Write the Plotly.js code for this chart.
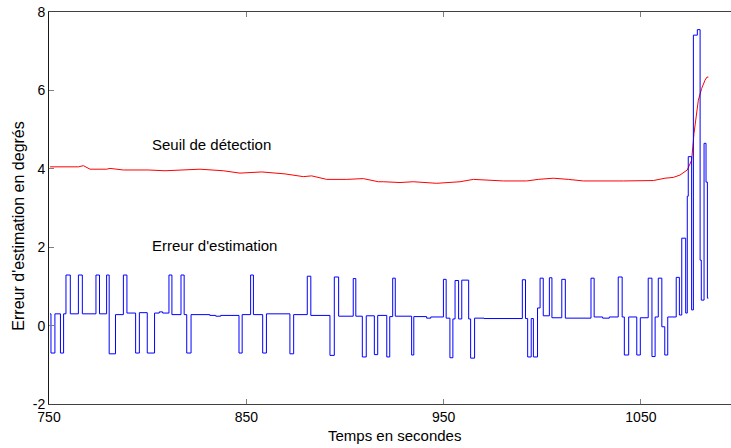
<!DOCTYPE html>
<html>
<head>
<meta charset="utf-8">
<script src="https://cdn.plot.ly/plotly-3.0.1.min.js"></script>
<style>html,body{margin:0;padding:0;background:#fff;}#chart{width:731px;height:448px;}</style>
</head>
<body>
<div id="chart"></div>
<script>
// Erreur d'estimation (step signal, breakpoints)
const errTime = [750.5,751.0,753.0,755.8,757.4,758.6,760.8,764.9,766.9,773.8,775.6,779.2,780.5,783.7,787.7,789.5,793.9,795.8,799.8,803.5,805.9,807.6,810.8,812.3,816.9,818.5,819.8,822.0,831.5,834.5,837.0,846.3,847.9,852.2,853.6,858.3,860.2,
872.1,874.0,880.9,882.7,892.4,894.6,896.8,904.2,905.5,908.8,910.8,914.9,916.6,921.2,922.7,924.2,925.5,933.8,934.9,941.4,943.5,949.9,951.3,953.2,954.7,955.8,957.6,959.2,962.7,963.7,965.7,
970.5,989.9,991.5,992.6,994.4,995.5,997.6,998.9,1000.5,1003.6,1004.9,1009.9,1011.7,1024.7,1026.3,1030.6,1034.0,1038.5,1040.5,1041.6,1043.8,1047.9,1049.7,1053.7,1055.6,1057.2,1058.8,1060.6,1062.1,1063.6,
1067.9,1069.5,1070.7,1072.7,1073.5,1074.0,1075.7,1076.6,1078.6,1080.0,1080.6,1082.0,1083.0,1083.7,1084.2];
const errValue = [0.30,-0.70,0.30,-0.70,0.30,1.29,0.30,1.29,0.30,1.29,0.30,1.29,-0.72,0.28,1.29,0.32,-0.70,0.33,-0.70,0.32,0.35,0.32,1.29,0.28,1.29,0.28,-0.70,0.28,0.26,0.24,0.26,-0.70,0.28,1.29,0.28,-0.70,0.30,
-0.72,0.28,1.26,0.26,-0.76,1.24,0.24,1.20,0.24,-0.80,0.25,-0.74,0.26,-0.80,0.23,1.21,0.24,-0.75,0.23,0.19,0.22,1.18,0.19,-0.82,0.17,1.15,0.17,1.16,0.17,-0.83,0.19,
0.18,1.17,0.18,-0.80,0.18,-0.80,0.45,1.21,0.25,1.22,0.20,1.18,0.19,1.21,0.22,0.19,0.22,1.24,0.22,-0.75,0.22,-0.75,0.20,1.21,-0.79,0.22,1.21,-0.03,-0.75,0.22,
1.23,0.27,2.23,0.32,3.30,4.31,0.40,7.41,7.55,1.67,0.65,4.65,3.66,0.70,0.70];

// Seuil de détection
const seuilTime = [750.5,764.9,767.4,770.8,779.2,780.9,787.7,800.3,808.8,816.4,826.5,838.3,846.8,857.8,869.6,878.9,883.1,890.7,900.9,909.3,912.7,916.9,919.4,927.9,934.6,946.5,958.3,965.1,980.3,992.1,998.0,1005.6,1013.2,1020.8,1041.1,1056.3,1062.2,1066.4,1069.8,1071.5,1073.5,1075.7,1076.9,1079.1,1080.8,1082.5,1083.5,1084.2];
const seuilValue = [4.05,4.05,4.08,3.99,3.99,4.01,3.97,3.97,3.95,3.97,3.99,3.95,3.89,3.92,3.87,3.80,3.82,3.73,3.73,3.75,3.71,3.67,3.67,3.65,3.67,3.63,3.67,3.73,3.69,3.69,3.73,3.76,3.73,3.69,3.69,3.70,3.76,3.78,3.84,3.89,3.97,4.22,4.90,5.75,6.05,6.26,6.34,6.34];

const xTicks = [750, 850, 950, 1050];
const yTicks = [-2, 0, 2, 4, 6, 8];
const labels = {seuil: 'Seuil de détection', erreur: "Erreur d'estimation", xTitle: 'Temps en secondes', yTitle: "Erreur d'estimation en degrés"};

const FONT = '"Liberation Sans", Arial, Helvetica, sans-serif';

const traces = [
  {x: seuilTime, y: seuilValue, type: 'scatter', mode: 'lines', line: {color: '#ff0000', width: 1}, hoverinfo: 'skip'},
  {x: errTime, y: errValue, type: 'scatter', mode: 'lines', line: {color: '#0000ff', width: 1, shape: 'hv'}, hoverinfo: 'skip'}
];

const layout = {
  width: 731, height: 448,
  margin: {l: 49, r: 0, t: 12, b: 44, pad: 0},
  paper_bgcolor: '#ffffff', plot_bgcolor: '#ffffff',
  showlegend: false,
  font: {family: FONT, size: 14, color: '#000'},
  xaxis: {
    range: [750, 1095.66], tickvals: xTicks, ticktext: xTicks.map(String),
    ticks: 'inside', ticklen: 5, tickcolor: '#7f7f7f', tickwidth: 1,
    showline: true, linecolor: '#404040', linewidth: 1, mirror: 'ticks',
    showgrid: false, zeroline: false, tickfont: {family: FONT, size: 14, color: '#000'}
  },
  yaxis: {
    range: [-2, 8], tickvals: yTicks, ticktext: yTicks.map(String),
    ticks: 'inside', ticklen: 5, tickcolor: '#7f7f7f', tickwidth: 1,
    showline: true, linecolor: '#1a1a1a', linewidth: 1, mirror: false,
    showgrid: false, zeroline: false, tickfont: {family: FONT, size: 14, color: '#000'}
  },
  annotations: [
    {x: 801.1, y: 4.61, xref: 'x', yref: 'y', text: labels.seuil, showarrow: false, xanchor: 'left', yanchor: 'middle', font: {family: FONT, size: 15, color: '#000'}},
    {x: 801.1, y: 2.04, xref: 'x', yref: 'y', text: labels.erreur, showarrow: false, xanchor: 'left', yanchor: 'middle', font: {family: FONT, size: 15, color: '#000'}},
    {x: 0.506, y: -0.0816, xref: 'paper', yref: 'paper', text: labels.xTitle, showarrow: false, xanchor: 'center', yanchor: 'middle', font: {family: FONT, size: 15, color: '#000'}},
    {x: -0.044, y: 0.455, xref: 'paper', yref: 'paper', text: labels.yTitle, showarrow: false, textangle: -90, xanchor: 'center', yanchor: 'middle', font: {family: FONT, size: 16, color: '#000'}}
  ]
};

Plotly.newPlot('chart', traces, layout, {staticPlot: true, displayModeBar: false});
</script>
</body>
</html>
